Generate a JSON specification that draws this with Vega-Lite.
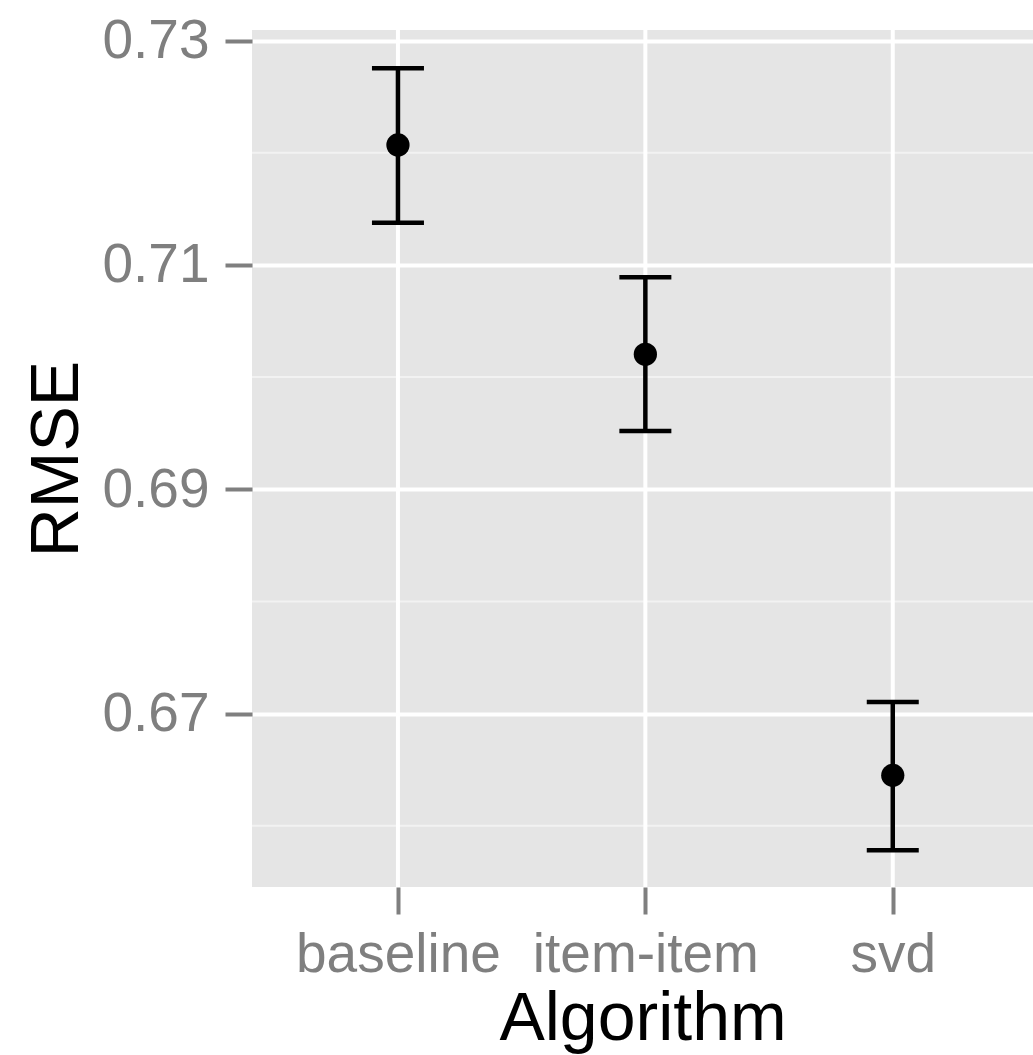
{
  "$schema": "https://vega.github.io/schema/vega-lite/v6.json",
  "autosize": "none",
  "width": 781,
  "height": 857,
  "padding": {"left": 252, "top": 30, "right": 0, "bottom": 168},
  "background": "white",
  "config": {
    "view": {"fill": "#e5e5e5", "stroke": null},
    "font": "Liberation Sans",
    "axis": {
      "domain": false,
      "labelFont": "Liberation Sans",
      "labelFontSize": 55,
      "labelColor": "#7f7f7f",
      "labelLimit": 0,
      "tickColor": "#7f7f7f",
      "tickWidth": 4,
      "tickSize": 27,
      "titleFont": "Liberation Sans",
      "titleFontSize": 68,
      "titleFontWeight": "normal",
      "titleColor": "#000000"
    }
  },
  "datasets": {
    "main": [
      {"Algorithm": "baseline", "RMSE": 0.72069, "lo": 0.71376, "hi": 0.72752},
      {"Algorithm": "item-item", "RMSE": 0.70203, "lo": 0.6952, "hi": 0.70889},
      {"Algorithm": "svd", "RMSE": 0.6645, "lo": 0.65782, "hi": 0.67103}
    ],
    "minor": [
      {"RMSE": 0.66}, {"RMSE": 0.68}, {"RMSE": 0.70}, {"RMSE": 0.72}
    ]
  },
  "layer": [
    {
      "data": {"name": "minor"},
      "mark": {"type": "rule", "color": "#f2f2f2", "strokeWidth": 2},
      "encoding": {
        "y": {"field": "RMSE", "type": "quantitative", "title": "RMSE",
              "scale": {"domain": [0.65455, 0.73094], "nice": false, "zero": false}}
      }
    },
    {
      "data": {"name": "main"},
      "mark": {"type": "rule", "color": "#ffffff", "strokeWidth": 4},
      "encoding": {
        "x": {"field": "Algorithm", "type": "nominal",
              "scale": {"type": "point", "padding": 0.5784, "align": 0.51},
              "axis": {"grid": false, "labelAngle": 0, "labelOverlap": false, "labelPadding": 14, "titlePadding": 3, "title": "Algorithm"}}
      }
    },
    {
      "data": {"name": "main"},
      "mark": {"type": "rule", "color": "#000000", "strokeWidth": 4.5},
      "encoding": {
        "x": {"field": "Algorithm", "type": "nominal"},
        "y": {"field": "lo", "type": "quantitative", "title": "RMSE"},
        "y2": {"field": "hi"}
      }
    },
    {
      "data": {"name": "main"},
      "mark": {"type": "tick", "color": "#000000", "size": 52, "thickness": 4.5, "opacity": 1},
      "encoding": {
        "x": {"field": "Algorithm", "type": "nominal"},
        "y": {"field": "lo", "type": "quantitative", "title": "RMSE"}
      }
    },
    {
      "data": {"name": "main"},
      "mark": {"type": "tick", "color": "#000000", "size": 52, "thickness": 4.5, "opacity": 1},
      "encoding": {
        "x": {"field": "Algorithm", "type": "nominal"},
        "y": {"field": "hi", "type": "quantitative", "title": "RMSE"}
      }
    },
    {
      "data": {"name": "main"},
      "mark": {"type": "point", "filled": true, "color": "#000000", "size": 540, "opacity": 1},
      "encoding": {
        "x": {"field": "Algorithm", "type": "nominal"},
        "y": {"field": "RMSE", "type": "quantitative", "title": "RMSE",
              "axis": {"values": [0.67, 0.69, 0.71, 0.73], "format": ".2f", "grid": true,
                       "gridColor": "#ffffff", "gridWidth": 4, "labelPadding": 16, "titlePadding": 10}}
      }
    }
  ]
}
